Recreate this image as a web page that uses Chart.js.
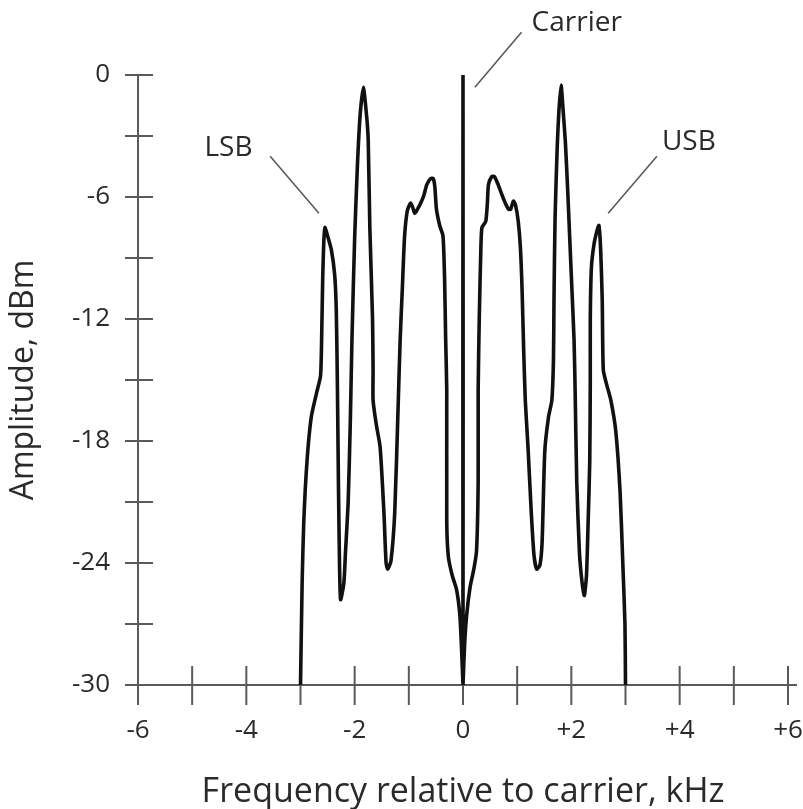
<!DOCTYPE html>
<html>
<head>
<meta charset="utf-8">
<script src="https://cdn.jsdelivr.net/npm/chart.js@4/dist/chart.umd.min.js"></script>
<style>
  html, body { margin: 0; padding: 0; background: #fff; }
  #wrap { width: 803px; height: 809px; }
</style>
</head>
<body>
<div id="wrap"><canvas id="stage" width="803" height="809"></canvas></div>
<script>
// spectrum trace, frequency in kHz relative to carrier
var freq = [
  -3.00, -2.97, -2.94, -2.88, -2.80, -2.70, -2.63, -2.61, -2.59, -2.57, -2.55,
  -2.49, -2.43, -2.37, -2.34, -2.32, -2.30, -2.28, -2.26, -2.20, -2.17, -2.12,
  -2.08, -2.05, -2.00, -1.95, -1.90, -1.84, -1.78, -1.75, -1.72, -1.67, -1.66,
  -1.66, -1.60, -1.53, -1.46, -1.42, -1.39, -1.33, -1.26, -1.20, -1.16, -1.12,
  -1.08, -1.03, -0.97, -0.93, -0.89, -0.84, -0.78, -0.72, -0.67, -0.60, -0.55,
  -0.52, -0.49, -0.43, -0.37, -0.34, -0.32, -0.30, -0.30, -0.27, -0.20, -0.12,
  -0.06, -0.03, 0.00, 0.00, 0.00,
  0.03, 0.07, 0.13, 0.20, 0.25, 0.28, 0.28, 0.30, 0.33, 0.35, 0.42,
  0.45, 0.47, 0.53, 0.58, 0.65, 0.72, 0.78, 0.84, 0.88, 0.93, 0.97,
  1.02, 1.06, 1.09, 1.12, 1.15, 1.20, 1.26, 1.31, 1.36, 1.42, 1.46,
  1.51, 1.58, 1.64, 1.67, 1.68, 1.70, 1.74, 1.77, 1.81, 1.85, 1.89,
  1.93, 1.97, 2.01, 2.05, 2.07, 2.10, 2.15, 2.20, 2.24, 2.28, 2.31,
  2.34, 2.35, 2.35, 2.37, 2.42, 2.48, 2.51, 2.54, 2.57, 2.59, 2.65,
  2.73, 2.82, 2.90, 2.95, 2.99, 3.00
];
// amplitude in dBm
var amp = [
  -30, -25, -22, -19, -16.8, -15.6, -14.8, -13, -10, -8.2, -7.5,
  -8.0, -8.6, -9.8, -11.5, -15, -20, -24, -25.8, -25.0, -23.5, -21,
  -17, -13, -8, -4.5, -2, -0.6, -2, -3.2, -7.5, -12, -14.5,
  -16, -17.2, -18.3, -21.5, -24.0, -24.3, -23.9, -21.5, -16.5, -13, -10.5,
  -8, -6.7, -6.3, -6.5, -6.8, -6.6, -6.3, -5.9, -5.4, -5.1, -5.1,
  -5.5, -6.6, -7.4, -7.9, -10, -13, -15.5, -22, -23.7, -24.6, -25.3,
  -26.5, -28, -30, 0, -30,
  -28, -26.5, -25.2, -24.3, -23.4, -20, -15.5, -12, -8.5, -7.5, -7.2,
  -6.3, -5.4, -5.0, -5.0, -5.4, -5.9, -6.3, -6.6, -6.6, -6.2, -6.4,
  -7.2, -8.5, -10.5, -13.5, -16, -18.3, -21.5, -23.6, -24.3, -24.1, -23,
  -18.5, -16.8, -16, -14, -11, -7, -3.5, -1.8, -0.5, -1.8, -3.3,
  -5.5, -8, -10.5, -13, -15.5, -20, -23.5, -25.0, -25.6, -24.6, -22,
  -19, -15, -12, -9.5, -8.3, -7.6, -7.4, -8.5, -11, -14.5, -15.2,
  -16.0, -17.5, -20.5, -24, -27, -30
];

// tick labels
var xTickLabels = {'-6': '-6', '-4': '-4', '-2': '-2', '0': '0', '2': '+2', '4': '+4', '6': '+6'};
var yTickLabels = {'0': '0', '-6': '-6', '-12': '-12', '-18': '-18', '-24': '-24', '-30': '-30'};

// callouts: text, text anchor, leader start, leader end (kHz, dBm)
var callouts = [
  { text: 'LSB', at: [-4.33, -3.6], from: [-3.56, -4.0], to: [-2.66, -6.8] },
  { text: 'USB', at: [4.17, -3.3], from: [3.58, -4.0], to: [2.68, -6.8] },
  { text: 'Carrier', at: [2.1, 2.55], from: [1.08, 2.1], to: [0.22, -0.6] }
];

var points = freq.map(function (f, i) { return { x: f, y: amp[i] }; });

var axisGray = '#5a5a5a';
var textColor = '#2a2a2a';
var fontFamily = '"Open Sans", "Noto Sans", sans-serif';

// axis lines, tick marks crossing the axes, callouts
var axisMarks = {
  id: 'axisMarks',
  beforeDatasetsDraw: function (chart) {
    var ctx = chart.ctx, x = chart.scales.x, y = chart.scales.y;
    var x0 = x.getPixelForValue(-6), y0 = y.getPixelForValue(-30);
    ctx.save();
    ctx.strokeStyle = axisGray;
    ctx.lineWidth = 2;
    ctx.beginPath();
    ctx.moveTo(x0, y.getPixelForValue(0));
    ctx.lineTo(x0, y0 + 20);
    ctx.moveTo(x0 - 13, y0);
    ctx.lineTo(x.getPixelForValue(6) + 9, y0);
    y.ticks.forEach(function (t) {
      var py = y.getPixelForValue(t.value);
      ctx.moveTo(x0 - 13, py);
      ctx.lineTo(x0 + 15, py);
    });
    x.ticks.forEach(function (t) {
      var px = x.getPixelForValue(t.value);
      ctx.moveTo(px, y0 - 19);
      ctx.lineTo(px, y0 + 20);
    });
    ctx.stroke();
    ctx.restore();
  },
  afterDatasetsDraw: function (chart) {
    var ctx = chart.ctx, x = chart.scales.x, y = chart.scales.y;
    ctx.save();
    ctx.strokeStyle = axisGray;
    ctx.lineWidth = 1.6;
    ctx.fillStyle = textColor;
    ctx.font = '28px ' + fontFamily;
    ctx.textAlign = 'center';
    ctx.textBaseline = 'middle';
    callouts.forEach(function (c) {
      ctx.beginPath();
      ctx.moveTo(x.getPixelForValue(c.from[0]), y.getPixelForValue(c.from[1]));
      ctx.lineTo(x.getPixelForValue(c.to[0]), y.getPixelForValue(c.to[1]));
      ctx.stroke();
      ctx.fillText(c.text, x.getPixelForValue(c.at[0]), y.getPixelForValue(c.at[1]));
    });
    ctx.restore();
  }
};

var canvas = document.getElementById('stage');
var chart = new Chart(canvas, {
  type: 'scatter',
  data: {
    datasets: [{
      data: points,
      showLine: true,
      borderColor: '#111',
      borderWidth: 3.6,
      pointRadius: 0,
      tension: 0.2,
      borderJoinStyle: 'round'
    }]
  },
  options: {
    responsive: false,
    animation: false,
    layout: { padding: { top: 75, right: 15, left: 0, bottom: 0 } },
    plugins: { legend: { display: false }, tooltip: { enabled: false } },
    scales: {
      x: {
        type: 'linear', min: -6, max: 6,
        afterFit: function (s) { s.height = 124; s.paddingLeft = 0; s.paddingRight = 0; },
        grid: { display: false, drawTicks: false },
        border: { display: false },
        ticks: {
          stepSize: 1, padding: 30, color: textColor,
          font: { size: 26, family: fontFamily },
          autoSkip: false, maxRotation: 0,
          callback: function (v) { return xTickLabels[String(v)] || ''; }
        },
        title: {
          display: true, text: 'Frequency relative to carrier, kHz',
          color: textColor, font: { size: 34, family: fontFamily, lineHeight: 1.0 },
          padding: { top: 0, bottom: 0 }
        }
      },
      y: {
        type: 'linear', min: -30, max: 0,
        afterFit: function (s) { s.width = 138; },
        grid: { display: false, drawTicks: false },
        border: { display: false },
        ticks: {
          stepSize: 3, padding: 28, color: textColor,
          font: { size: 26, family: fontFamily },
          autoSkip: false,
          callback: function (v) { return yTickLabels[String(v)] || ''; }
        },
        title: {
          display: true, text: 'Amplitude, dBm',
          color: textColor, font: { size: 32, family: fontFamily, lineHeight: 1.2 },
          padding: { top: 5, bottom: 0 }
        }
      }
    }
  },
  plugins: [axisMarks]
});
</script>
</body>
</html>
